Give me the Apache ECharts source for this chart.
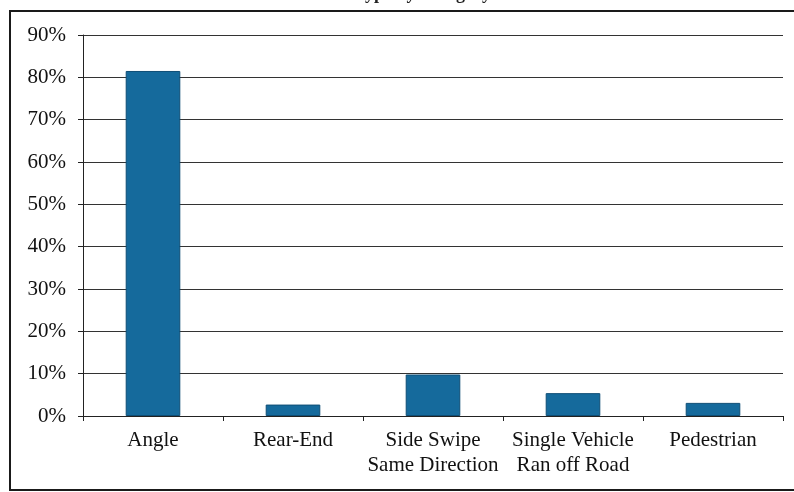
<!DOCTYPE html>
<html><head><meta charset="utf-8">
<script src="https://cdn.jsdelivr.net/npm/echarts@6/dist/echarts.min.js"></script>
<style>html,body{margin:0;padding:0;background:#fff}#c{width:794px;height:492px}</style>
</head><body><div id="c"></div>
<script>
const categories = ['Angle', 'Rear-End', 'Side Swipe\nSame Direction', 'Single Vehicle\nRan off Road', 'Pedestrian'];
const shares = [81.5, 2.7, 9.8, 5.4, 3.1];
const yTicks = [0, 10, 20, 30, 40, 50, 60, 70, 80, 90];
const titleText = 'Crash Type by Category';

const chart = echarts.init(document.getElementById('c'), null, {renderer: 'canvas'});
const serif = '"Liberation Serif", "DejaVu Serif", serif';
chart.setOption({
  animation: false,
  backgroundColor: '#fff',
  graphic: [
    {type: 'rect', shape: {x: 10, y: 11, width: 800, height: 479}, style: {fill: 'none', stroke: '#1a1a1a', lineWidth: 2}, z: 0},
    {type: 'text', left: 'center', top: -15, style: {text: titleText, font: 'bold 18px ' + serif, fill: '#222'}}
  ],
  grid: {left: 83, right: 11, top: 35, bottom: 76},
  xAxis: {
    type: 'category', data: categories,
    axisLine: {lineStyle: {color: '#222', width: 1}},
    axisTick: {show: true, length: 5, lineStyle: {color: '#222'}},
    axisLabel: {interval: 0, color: '#111', fontFamily: serif, fontSize: 21, lineHeight: 25, margin: 12}
  },
  yAxis: {
    type: 'value', min: yTicks[0], max: yTicks[yTicks.length - 1], interval: 10,
    axisLine: {show: true, lineStyle: {color: '#222', width: 1}},
    axisTick: {show: true, length: 5, lineStyle: {color: '#222'}},
    splitLine: {lineStyle: {color: '#333', width: 1}},
    axisLabel: {formatter: '{value}%', color: '#111', fontFamily: serif, fontSize: 21, margin: 17}
  },
  series: [{
    type: 'bar', data: shares, barWidth: '39%',
    itemStyle: {color: '#156a9c', borderColor: '#0e4e76', borderWidth: 1}
  }]
});
</script></body></html>
